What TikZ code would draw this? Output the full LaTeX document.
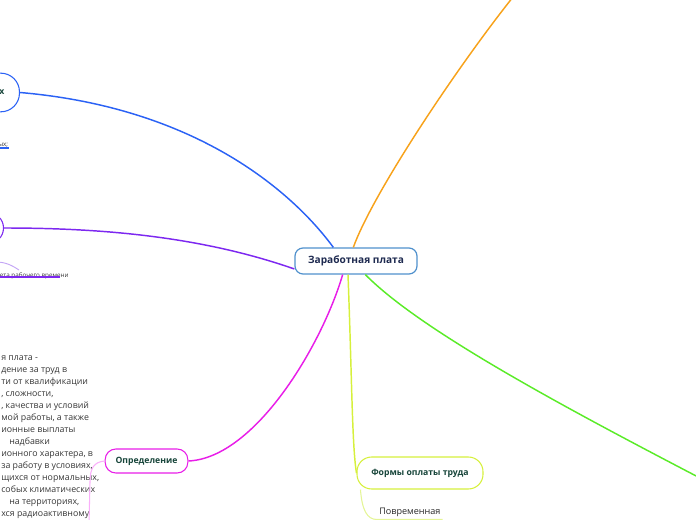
\documentclass[tikz,border=0pt]{standalone}
\usepackage{fontspec}
\setmainfont{Open Sans}
\usepackage{tikz}

\definecolor{cblue}{RGB}{43,98,245}
\definecolor{cpurp}{RGB}{125,40,240}
\definecolor{cmag}{RGB}{232,30,232}
\definecolor{cyel}{RGB}{214,240,60}
\definecolor{corange}{RGB}{247,162,27}
\definecolor{cgreen}{RGB}{90,235,40}
\definecolor{croot}{RGB}{80,145,205}
\definecolor{cnavy}{RGB}{30,42,80}
\definecolor{cdark}{RGB}{23,69,58}
\definecolor{cpink}{RGB}{250,175,250}
\definecolor{clyel}{RGB}{228,245,150}
\definecolor{clpurp}{RGB}{195,165,245}
\definecolor{ctext}{RGB}{55,55,55}

\begin{document}
\begin{tikzpicture}[x=0.75pt,y=0.75pt,yscale=-1,xscale=1,
  root/.style={draw=croot,line width=0.9pt,rounded corners=6pt,fill=white,
    minimum width=91.5pt,minimum height=19.5pt,
    font=\fontsize{7.6}{9}\selectfont\bfseries,text=cnavy},
  branch/.style={fill=white,line width=0.8pt,
    font=\fontsize{6.5}{8}\selectfont\bfseries,text=cdark},
  link/.style={line width=1.1pt},
  tinytext/.style={inner sep=0.5pt,font=\fontsize{4.7}{5}\selectfont,text=ctext}]
\useasboundingbox (0,0) rectangle (696,520);
\clip (0,0) rectangle (696,520);

% free ends
\coordinate (otop) at (513,-3);
\coordinate (gend) at (700,478);
\coordinate (c2) at (-4,262);
\coordinate (c2e) at (19,270);
\coordinate (dend) at (89,524);

% Text Node
\node[root] (root) at (356,261) {Заработная плата};
\node[branch,draw=cmag,rounded corners=8pt,minimum width=62pt,minimum height=18pt] (def) at (146.5,461) {Определение};
\node[branch,draw=cyel,rounded corners=11pt,minimum width=94.5pt,minimum height=24pt] (forms) at (420,473) {Формы оплаты труда};
\node[branch,draw=cblue,rounded corners=14pt,anchor=east,minimum height=29pt,
  text width=57.5pt,inner xsep=11.25pt,align=right] (kinds) at (20,92.5) {х};
\node[branch,draw=cpurp,rounded corners=11pt,anchor=east,minimum height=22.5pt,
  minimum width=70pt] (hours) at (4,228) {};

% sub items
\node[tinytext,anchor=south east] (t1) at (9,148) {ных;};
\node[tinytext,anchor=south west] (t2) at (-1,280) {ета рабочего времени};
\node[anchor=south west,inner xsep=1.5pt,inner ysep=2pt,font=\fontsize{6.8}{8}\selectfont,text=black!85] (povr) at (377,519.5) {Повременная};
\node[anchor=north west,inner sep=0pt,align=left,font=\fontsize{6.6}{9}\selectfont,text=ctext] (deftxt) at (1,355.5) {я плата -\\дение за труд в\\ти от квалификации\\, сложности,\\, качества и условий\\мой работы, а также\\ионные выплаты\\\hspace{6pt}надбавки\\ионного характера, в\\за работу в условиях,\\щихся от нормальных,\\собых климатических\\\hspace{6pt}на территориях,\\хся радиоактивному};

% connectors
\draw[link,cblue] ([xshift=-17pt]root.north) .. controls (295,195) and (200,108) .. (kinds.east);
\draw[link,cpurp] ([yshift=6pt]root.west) .. controls (200,236) and (100,228) .. (hours.east);
\draw[link,cmag] ([xshift=-10pt]root.south) .. controls (322,345) and (255,458) .. (def.east);
\draw[link,cyel] ([xshift=-6pt]root.south) .. controls (352,380) and (352,445) .. (forms.west);
\draw[link,corange] ([xshift=-2pt]root.north) .. controls (372,195) and (455,70) .. (otop);
\draw[link,cgreen] ([xshift=7pt]root.south) .. controls (420,330) and (560,405) .. (gend);

\draw[cpink,line width=0.8pt] (def.west) .. controls (94,462) and (90,468) .. (90,482) -- (dend);
\draw[clyel,line width=0.8pt] ([xshift=3pt]forms.south west) .. controls (362,510) and (367,519.5) .. (povr.south west) -- (povr.south east);
\draw[clpurp,line width=0.7pt] (c2) .. controls (6,262) and (13,266) .. (c2e);
\draw[cblue,line width=1.2pt] ([xshift=-9pt]t1.south east) -- (t1.south east);
\draw[cpurp,line width=1.5pt] ([yshift=-2pt]t2.south west) -- ++(61,0);
\end{tikzpicture}
\end{document}
